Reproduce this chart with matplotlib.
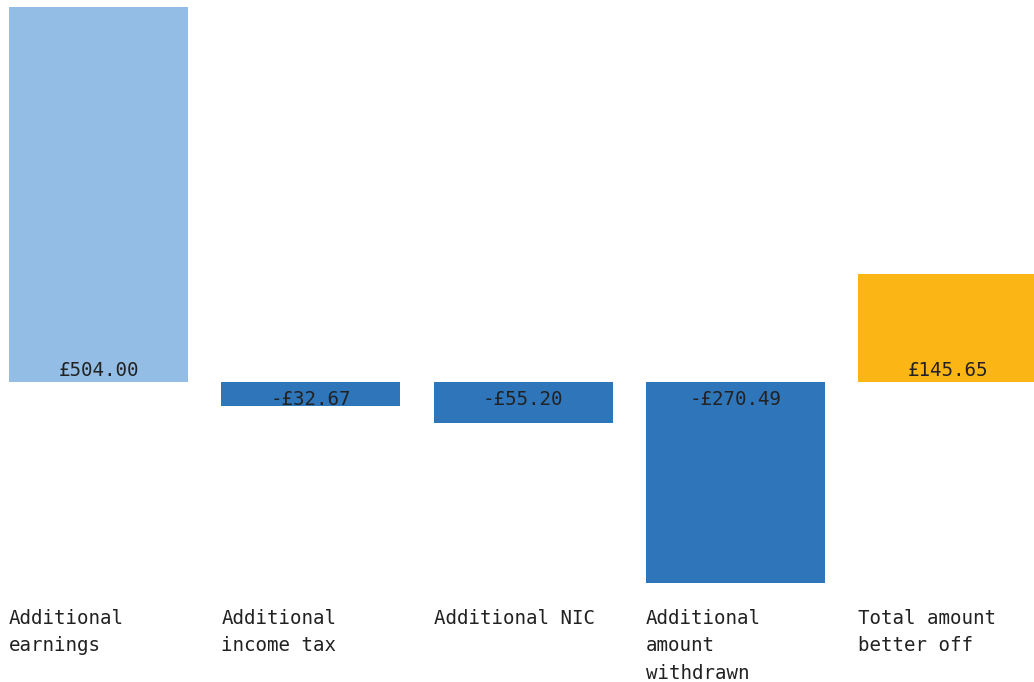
import matplotlib
matplotlib.use("Agg")
import matplotlib.pyplot as plt

# breakdown of how much better off someone is after extra earnings
categories = ["Additional\nearnings", "Additional\nincome tax", "Additional NIC",
              "Additional\namount\nwithdrawn", "Total amount\nbetter off"]
values = [504.00, -32.67, -55.20, -270.49, 145.65]
bar_colors = ["#93bde5", "#2e75ba", "#2e75ba", "#2e75ba", "#fbb615"]

text_color = "#222222"
plt.rcParams["font.family"] = ["DejaVu Sans Mono"]

fig = plt.figure(figsize=(10.34, 6.82), dpi=100)
ax = fig.add_axes([0, 0, 1, 1])

x = list(range(len(values)))
width = 0.8433
ax.bar(x, values, width=width, color=bar_colors)

def money(v):
    return ("-£%.2f" % abs(v)) if v < 0 else ("£%.2f" % v)

for xi, v in zip(x, values):
    # positive labels sit just above zero, negative ones just below it
    off = 4.3 if v > 0 else -16.5
    ax.annotate(money(v), (xi, 0), xytext=(0, off), textcoords="offset points",
                ha="center", va="baseline", fontsize=13.8, color=text_color)

for xi, name in zip(x, categories):
    ax.text(xi - width / 2, -305, name, ha="left", va="top", fontsize=13.8,
            color=text_color, linespacing=1.56)

ax.set_xlim(-0.4641, 4.4075)
ax.set_ylim(-403.2, 513.4)
ax.axis("off")

fig.savefig("out.png", dpi=100)
